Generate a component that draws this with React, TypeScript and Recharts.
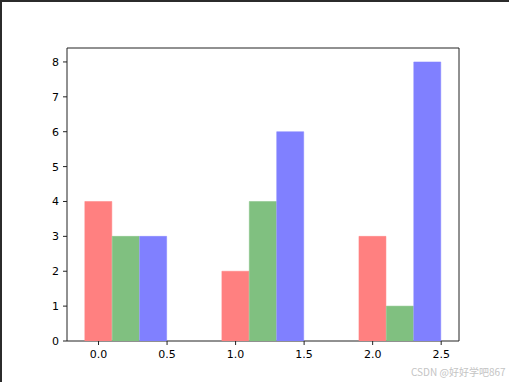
import { ComposedChart, Bar, Cell, XAxis, YAxis, ReferenceArea } from 'recharts';

// group positions and the offset of each series inside a group
const groups = [0, 1, 2];
const offsets = [0, 0.2, 0.4];

// bar heights per series
const redValues = [4, 2, 3];
const greenValues = [3, 4, 1];
const blueValues = [3, 6, 8];

const xTicks = [0, 0.5, 1, 1.5, 2, 2.5];
const yTicks = [0, 1, 2, 3, 4, 5, 6, 7, 8];

const X_DOMAIN = [-0.23, 2.63];
const Y_DOMAIN = [0, 8.4];

const SERIES = [
  { values: redValues, color: '#ff8080' },
  { values: greenValues, color: '#80c080' },
  { values: blueValues, color: '#8080ff' },
];

const rows = groups.flatMap((g, gi) =>
  SERIES.map((s, si) => ({ x: g + offsets[si], v: s.values[gi], fill: s.color }))
);

const tickStyle = { fill: '#000', fontSize: 11, fontFamily: 'DejaVu Sans' };

export default function App() {
  return (
    <div
      style={{
        position: 'absolute',
        left: 0,
        top: 0,
        width: 509,
        height: 382,
        background: '#fff',
        boxSizing: 'border-box',
        borderTop: '2px solid #2b2b2b',
        borderLeft: '2px solid #2b2b2b',
        overflow: 'hidden',
      }}
    >
      <div style={{ position: 'absolute', left: -2, top: -2 }}>
        <ComposedChart
          width={509}
          height={382}
          data={rows}
          margin={{ top: 48, right: 50, left: 27, bottom: 16 }}
          barCategoryGap={0}
          barGap={0}
        >
          <XAxis
            dataKey="x"
            type="number"
            domain={X_DOMAIN}
            allowDataOverflow
            ticks={xTicks}
            tickFormatter={(v: number) => v.toFixed(1)}
            tick={tickStyle}
            tickSize={4}
            tickMargin={5}
            height={25}
            axisLine={false}
            tickLine={{ stroke: '#222' }}
          />
          <YAxis
            type="number"
            domain={Y_DOMAIN}
            allowDataOverflow
            ticks={yTicks}
            tick={tickStyle}
            tickSize={4}
            tickMargin={4}
            width={40}
            axisLine={false}
            tickLine={{ stroke: '#222' }}
          />
          <Bar dataKey="v" isAnimationActive={false}>
            {rows.map((r, i) => (
              <Cell key={i} fill={r.fill} stroke={r.fill} strokeWidth={0.5} />
            ))}
          </Bar>
          <ReferenceArea
            x1={X_DOMAIN[0]}
            x2={X_DOMAIN[1]}
            y1={Y_DOMAIN[0]}
            y2={Y_DOMAIN[1]}
            fill="none"
            stroke="#222"
            strokeWidth={1}
            fillOpacity={0}
            strokeOpacity={1}
            ifOverflow="visible"
          />
        </ComposedChart>
      </div>
      <div
        style={{
          position: 'absolute',
          left: 409,
          top: 362,
          fontSize: 10,
          color: '#c4c4c4',
          fontFamily: '"Noto Sans CJK SC", "DejaVu Sans", sans-serif',
          whiteSpace: 'nowrap',
        }}
      >
        CSDN @好好学吧867
      </div>
    </div>
  );
}
